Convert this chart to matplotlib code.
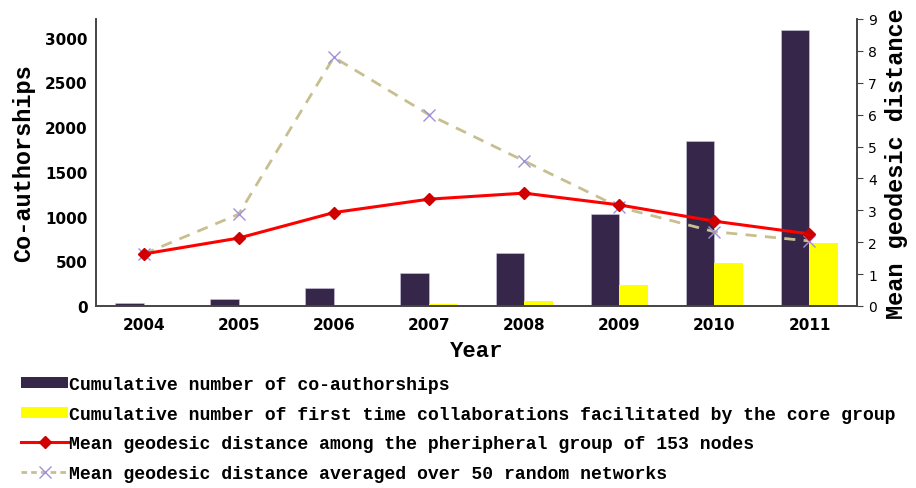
import matplotlib
matplotlib.use("Agg")
import matplotlib.pyplot as plt
import numpy as np
from matplotlib.lines import Line2D
from matplotlib.patches import Patch

years = ["2004", "2005", "2006", "2007", "2008", "2009", "2010", "2011"]
coauthorships = [30, 80, 200, 370, 590, 1030, 1845, 3085]
first_time = [0, 0, 10, 25, 56, 235, 481, 705]
geo_peripheral = [1.63, 2.13, 2.93, 3.35, 3.54, 3.17, 2.66, 2.26]
geo_random = [1.63, 2.88, 7.80, 6.00, 4.55, 3.10, 2.33, 2.04]

labels = [
    "Cumulative number of co-authorships",
    "Cumulative number of first time collaborations facilitated by the core group",
    "Mean geodesic distance among the pheripheral group of 153 nodes",
    "Mean geodesic distance averaged over 50 random networks",
]

dark = "#35264a"
yellow = "#ffff00"
red = "#ff0000"
khaki = "#c8bf90"
lav = "#a092d8"

fig = plt.figure(figsize=(9.16, 4.89), dpi=100)
ax = fig.add_axes([96/916, 1-307/489, (857-96)/916, (307-20)/489])
ax2 = ax.twinx()

x = np.arange(len(years))
w = 0.3
ax.bar(x - w/2, coauthorships, w, color=dark, edgecolor="#d0c8e0", linewidth=0.4, zorder=2)
ax.bar(x + w/2, first_time, w, color=yellow, linewidth=0, zorder=2)

ax.set_xlim(-0.5, 7.5)
ax.set_ylim(0, 3210)
ax.set_yticks([0, 500, 1000, 1500, 2000, 2500, 3000])
ax.set_xticks(x)
ax.set_xticklabels(years)
for lab in ax.get_xticklabels() + ax.get_yticklabels():
    lab.set_fontfamily("DejaVu Sans")
    lab.set_fontweight("bold")
    lab.set_fontsize(11)
ax.tick_params(axis="x", length=0, pad=8)
ax.tick_params(axis="y", length=0, pad=6)

ax2.plot(x, geo_random, color=khaki, linestyle=(0, (4, 3)), linewidth=2,
         marker="x", markersize=8, markeredgecolor=lav, markeredgewidth=1.0, zorder=3)
ax2.plot(x, geo_peripheral, color=red, linewidth=2.2,
         marker="D", markersize=6, markerfacecolor="#d00000", markeredgecolor="#d00000", zorder=4)
ax2.set_ylim(0, 9)
ax2.set_yticks(range(10))
for lab in ax2.get_yticklabels():
    lab.set_fontfamily("DejaVu Sans")
    lab.set_fontsize(10)
ax2.tick_params(axis="y", length=4, direction="out", pad=4, color="#444444")

for a in (ax, ax2):
    a.spines["top"].set_visible(False)
    for s in ("left", "right", "bottom"):
        a.spines[s].set_color("#444444")
        a.spines[s].set_linewidth(1.2)

ax.set_ylabel("Co-authorships", fontfamily="Liberation Mono", fontweight="bold", fontsize=17, labelpad=7)
ax2.set_ylabel("Mean geodesic distance", fontfamily="Liberation Mono", fontweight="bold", fontsize=17, labelpad=6)
ax.set_xlabel("Year", fontfamily="Liberation Mono", fontweight="bold", fontsize=16, labelpad=6)

handles = [
    Patch(facecolor=dark, edgecolor="none"),
    Patch(facecolor=yellow, edgecolor="none"),
    Line2D([], [], color=red, linewidth=2.2, marker="D", markersize=6,
           markerfacecolor="#d00000", markeredgecolor="#d00000"),
    Line2D([], [], color=khaki, linestyle=(0, (2, 1.5)), linewidth=2, marker="x",
           markersize=8, markeredgecolor=lav),
]
fig.legend(handles, labels, loc="upper left", bbox_to_anchor=(21/916, 1-377/489),
           frameon=False, handlelength=2.6, handleheight=0.55, handletextpad=0.05,
           labelspacing=0.7, borderaxespad=0, borderpad=0,
           prop={"family": "Liberation Mono", "weight": "bold", "size": 13.05})

fig.savefig("out.png", dpi=100)
